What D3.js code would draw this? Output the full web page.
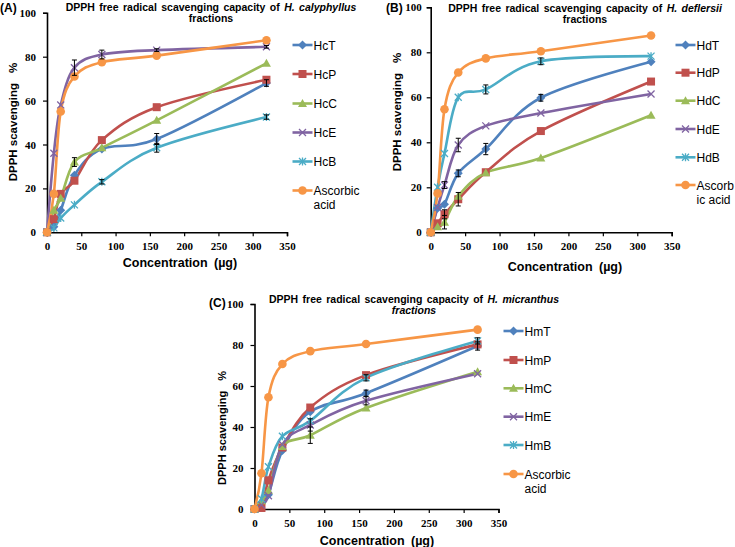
<!DOCTYPE html>
<html><head><meta charset="utf-8">
<script src="https://cdn.jsdelivr.net/npm/d3@7"></script>
<style>
body{margin:0;background:#fff;}
svg{display:block;}
text{font-family:"Liberation Sans",Arial,sans-serif;}
.tick text{font-family:"Liberation Serif","Times New Roman",serif;font-weight:bold;font-size:11px;}
</style></head>
<body>
<svg id="chart" width="735" height="547"></svg>
<script>
// ---------- data ----------
const conc = [0, 10, 20, 40, 80, 160, 320];
const xTicks = [0, 50, 100, 150, 200, 250, 300, 350];
const yTicks = [0, 20, 40, 60, 80, 100];

const namesA = ["HcT", "HcP", "HcC", "HcE", "HcB", "Ascorbic acid"];
const HcT = [0, 2.5, 10, 26, 38, 42.5, 68];
const HcP = [0, 6, 17.5, 23.5, 42, 57, 69.5];
const HcC = [0, 10, 15.5, 32, 38.5, 51, 77];
const HcE = [0, 36, 58, 75, 81, 83, 84.5];
const HcB = [0, 2, 6.5, 12.5, 23, 38.5, 52.5];
const AscA = [0, 17.5, 55, 71, 77.5, 80.5, 87.5];
const errHcT = [0, 0, 0, 0, 0, 2.5, 1.5];
const errHcP = [0, 0, 0, 0, 0, 0, 0];
const errHcC = [0, 0, 0, 2, 0, 0, 0];
const errHcE = [0, 0, 0, 3.5, 2, 0.6, 0.6];
const errHcB = [0, 0, 0, 0, 1, 2, 1];
const errAscA = [0, 0, 0, 0, 0, 0, 0];

const namesB = ["HdT", "HdP", "HdC", "HdE", "HdB", "Ascorbic acid"];
const HdT = [0, 10.7, 12.5, 26.2, 37, 59.8, 75.8];
const HdP = [0, 4, 8, 14.7, 26.7, 45, 67];
const HdC = [0, 2.5, 4.5, 16, 26.5, 33, 52];
const HdE = [0, 11, 21, 38.8, 47.3, 53, 61.5];
const HdB = [0, 20, 35, 60, 63.5, 76, 78.3];
const AscB = [0, 17.3, 54.7, 71, 77.3, 80.5, 87.5];
const errHdT = [0, 0, 0, 1.5, 2.5, 1.5, 0];
const errHdP = [0, 0, 2, 3, 0, 0, 0];
const errHdC = [0, 0, 3, 0, 0, 0, 0];
const errHdE = [0, 0, 1.5, 3, 0, 0, 0];
const errHdB = [0, 0, 0, 0, 2, 1.5, 0];
const errAscB = [0, 0, 0, 0, 0, 0, 0];

const namesC = ["HmT", "HmP", "HmC", "HmE", "HmB", "Ascorbic acid"];
const HmT = [0, 3, 7, 28.5, 47.5, 56.5, 79.5];
const HmP = [0, 0.5, 14, 30, 49.5, 65.3, 80.3];
const HmC = [0, 4, 9, 30.5, 36, 49.3, 67];
const HmE = [0, 2, 6.5, 31.5, 41, 52.8, 66];
const HmB = [0, 5, 20.6, 35.5, 43, 64, 82];
const AscC = [0, 17.4, 54.5, 70.7, 77, 80.5, 87.5];
const errHmT = [0, 0, 0, 0, 0, 1.5, 2];
const errHmP = [0, 0, 0, 0, 0, 0, 0];
const errHmC = [0, 0, 0, 0, 4, 0, 0];
const errHmE = [0, 0, 0, 0, 3, 2, 0];
const errHmB = [0, 0, 0, 0, 0, 1.5, 1.5];
const errAscC = [0, 0, 0, 0, 0, 0, 0];

// ---------- styles ----------
const colors = ["#4F81BD", "#C0504D", "#9BBB59", "#8064A2", "#4BACC6", "#F79646"];
const markers = ["diamond", "square", "triangle", "x", "star", "circle"];

const svg = d3.select("#chart");

function drawMarker(g, type, x, y, color) {
  if (type === "diamond") {
    g.append("path").attr("d", `M${x},${y-4.5}L${x+4.5},${y}L${x},${y+4.5}L${x-4.5},${y}Z`).attr("fill", color);
  } else if (type === "square") {
    g.append("rect").attr("x", x-4).attr("y", y-4).attr("width", 8).attr("height", 8).attr("fill", color);
  } else if (type === "triangle") {
    g.append("path").attr("d", `M${x},${y-4.5}L${x+4.5},${y+3.5}L${x-4.5},${y+3.5}Z`).attr("fill", color);
  } else if (type === "x") {
    g.append("path").attr("d", `M${x-3.5},${y-3.5}L${x+3.5},${y+3.5}M${x-3.5},${y+3.5}L${x+3.5},${y-3.5}`).attr("stroke", color).attr("stroke-width", 1.3).attr("fill", "none");
  } else if (type === "star") {
    g.append("path").attr("d", `M${x-3.5},${y-3.5}L${x+3.5},${y+3.5}M${x-3.5},${y+3.5}L${x+3.5},${y-3.5}M${x},${y-4}L${x},${y+4}`).attr("stroke", color).attr("stroke-width", 1.3).attr("fill", "none");
  } else {
    g.append("circle").attr("cx", x).attr("cy", y).attr("r", 4.3).attr("fill", color);
  }
}

function drawPanel(cfg) {
  const x = d3.scaleLinear().domain([0, 350]).range([cfg.x0, cfg.x1]);
  const y = d3.scaleLinear().domain([0, 100]).range([cfg.y0, cfg.y1]);
  const g = svg.append("g");

  const xa = g.append("g").attr("transform", `translate(0,${cfg.y0})`)
    .call(d3.axisBottom(x).tickValues(xTicks).tickSize(4).tickPadding(6).tickFormat(d3.format("d")));
  const ya = g.append("g").attr("transform", `translate(${cfg.x0},0)`)
    .call(d3.axisLeft(y).tickValues(yTicks).tickSize(4).tickPadding(cfg.ypad).tickFormat(d3.format("d")));
  [xa, ya].forEach(a => {
    a.select(".domain").attr("stroke", "#000").attr("stroke-width", 1.6);
    a.selectAll(".tick line").attr("stroke", "#000").attr("stroke-width", 1.2);
    a.selectAll(".tick text").attr("fill", "#000");
  });

  const line = d3.line().x((d, i) => x(conc[i])).y(d => y(d)).curve(d3.curveCardinal.tension(0));
  cfg.series.forEach((s, k) => {
    g.append("path").attr("d", line(s)).attr("fill", "none").attr("stroke", colors[k]).attr("stroke-width", 2.6);
  });
  cfg.series.forEach((s, k) => {
    const mg = g.append("g");
    s.forEach((v, i) => drawMarker(mg, markers[k], x(conc[i]), y(v), colors[k]));
  });
  cfg.series.forEach((s, k) => {
    const e = cfg.errs[k];
    s.forEach((v, i) => {
      if (!e[i]) return;
      const cx = x(conc[i]), top = y(v + e[i]), bot = y(v - e[i]);
      g.append("path").attr("d", `M${cx},${top}L${cx},${bot}M${cx-2.5},${top}L${cx+2.5},${top}M${cx-2.5},${bot}L${cx+2.5},${bot}`)
        .attr("stroke", "#000").attr("stroke-width", 1).attr("fill", "none");
    });
  });

  cfg.names.forEach((n, k) => {
    const ly = cfg.legY[k];
    g.append("line").attr("x1", cfg.legX).attr("x2", cfg.legX + 20).attr("y1", ly).attr("y2", ly)
      .attr("stroke", colors[k]).attr("stroke-width", 2.6);
    drawMarker(g, markers[k], cfg.legX + 10, ly, colors[k]);
    const t = g.append("text").attr("x", cfg.legX + 21).attr("y", ly + 4.5).attr("font-size", 12).attr("fill", "#000");
    cfg.legLines[k].forEach((ln, j) => {
      t.append("tspan").attr("x", cfg.legX + 21).attr("dy", j === 0 ? 0 : 14).text(ln);
    });
  });

  const tt = g.append("text").attr("x", cfg.titleX).attr("y", cfg.titleY).attr("text-anchor", "middle")
    .attr("font-size", cfg.titleSize).attr("font-weight", "bold").attr("word-spacing", 1.5);
  tt.append("tspan").text("DPPH free radical scavenging capacity of ");
  tt.append("tspan").attr("font-style", "italic").text(cfg.species);
  g.append("text").attr("x", cfg.titleX).attr("y", cfg.titleY + 11).attr("text-anchor", "middle")
    .attr("font-size", cfg.titleSize).attr("font-weight", "bold").attr("font-style", cfg.fracItalic ? "italic" : "normal")
    .text("fractions");
  g.append("text").attr("x", cfg.labX).attr("y", cfg.labY).attr("font-size", 12).attr("font-weight", "bold").text(cfg.label);

  g.append("text").attr("x", cfg.xtX).attr("y", cfg.xtY).attr("text-anchor", "middle")
    .attr("font-size", 12.5).attr("font-weight", "bold").attr("word-spacing", 3).text("Concentration (µg)");
  const yt = g.append("text").attr("transform", `translate(${cfg.ytX},${cfg.ytY}) rotate(-90)`)
    .attr("text-anchor", "middle").attr("font-size", cfg.ytSize).attr("font-weight", "bold");
  yt.append("tspan").text("DPPH scavenging");
  yt.append("tspan").attr("dx", 10).text("%");
}

drawPanel({
  x0: 47, x1: 287, y0: 232.3, y1: 12.8, ypad: 7,
  series: [HcT, HcP, HcC, HcE, HcB, AscA],
  errs: [errHcT, errHcP, errHcC, errHcE, errHcB, errAscA],
  names: namesA, legLines: [["HcT"], ["HcP"], ["HcC"], ["HcE"], ["HcB"], ["Ascorbic", "acid"]],
  legX: 292.5, legY: [45, 74, 103.5, 132.5, 161.5, 190.5],
  titleX: 211, titleY: 11, titleSize: 10.5, species: "H. calyphyllus", fracItalic: false,
  label: "(A)", labX: 0, labY: 12,
  xtX: 180, xtY: 267, ytX: 17, ytY: 122, ytSize: 11.5
});
drawPanel({
  x0: 430.7, x1: 671.7, y0: 232.3, y1: 7.3, ypad: 5,
  series: [HdT, HdP, HdC, HdE, HdB, AscB],
  errs: [errHdT, errHdP, errHdC, errHdE, errHdB, errAscB],
  names: namesB, legLines: [["HdT"], ["HdP"], ["HdC"], ["HdE"], ["HdB"], ["Ascorb", "ic acid"]],
  legX: 675.5, legY: [45, 72.7, 100.7, 129, 157.3, 185],
  titleX: 585, titleY: 11.5, titleSize: 10.5, species: "H. deflersii", fracItalic: false,
  label: "(B)", labX: 386, labY: 12,
  xtX: 565, xtY: 271, ytX: 401, ytY: 112, ytSize: 11.5
});
drawPanel({
  x0: 254.5, x1: 498.5, y0: 509, y1: 304, ypad: 7,
  series: [HmT, HmP, HmC, HmE, HmB, AscC],
  errs: [errHmT, errHmP, errHmC, errHmE, errHmB, errAscC],
  names: namesC, legLines: [["HmT"], ["HmP"], ["HmC"], ["HmE"], ["HmB"], ["Ascorbic", "acid"]],
  legX: 503.5, legY: [331, 360, 388.3, 416.7, 445, 474],
  titleX: 414, titleY: 303, titleSize: 10.5, species: "H. micranthus", fracItalic: true,
  label: "(C)", labX: 209, labY: 307,
  xtX: 377, xtY: 545, ytX: 226, ytY: 428, ytSize: 11
});
</script>
</body></html>
